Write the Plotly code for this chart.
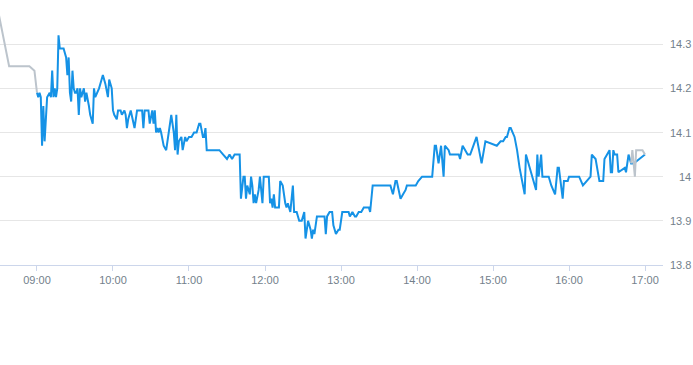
import datetime as dt
import plotly.graph_objects as go

BASE = dt.datetime(2024, 1, 2, 9, 0)

# Intraday price (minutes after 09:00, price)
main_minutes = [0, 1, 2, 3, 4, 5, 6, 8, 10, 11, 12, 13, 14, 15, 16, 17, 18, 21, 23, 24, 25, 26, 27, 28, 29,
                30, 31, 32, 33, 34, 35, 37, 38, 39, 41, 42, 44, 45, 46, 49, 51, 52, 54, 56, 57, 59,
                60, 61, 63, 64, 66, 67, 69, 70, 71, 72, 74, 76, 77, 79, 83, 84, 85, 88, 89, 91, 92, 93,
                94, 95, 96, 97, 98, 100, 102, 104, 106, 108, 109, 110, 111, 112, 114, 115, 117, 118,
                120, 122, 124, 126, 128, 129, 131, 132, 133, 134, 137, 144, 147, 150, 152, 154, 156,
                158, 160, 161, 163, 164, 165, 166, 168, 169, 170, 171, 172, 173, 175, 176, 177, 178,
                179, 183, 184, 185, 186, 187, 188, 191, 192, 194, 196, 197, 198, 200, 202, 203, 205,
                207, 209, 211, 212, 214, 216, 217, 218, 219, 221, 227, 228, 229, 231, 233, 234, 236,
                238, 239, 241, 243, 246, 247, 249, 251, 252, 254, 256, 258, 260, 262, 263, 265, 269,
                279, 281, 283, 284, 287, 289, 291, 292, 299, 301, 304, 312, 314, 315, 317, 319, 321,
                322, 325, 326, 333, 334, 336, 340, 342, 347, 351, 354, 363, 366, 368, 370, 371, 373,
                374, 377, 379, 381, 383, 385, 386, 389, 394, 395, 396, 398, 399, 404, 406, 409, 411,
                412, 415, 416, 419, 420, 428, 431, 434, 437, 438, 441, 444, 447, 448, 452, 453, 454,
                455, 456, 458, 459, 464, 465, 467, 469, 471, 476, 480]
main_prices = [14.19, 14.18, 14.19, 14.18, 14.07, 14.16, 14.08, 14.18, 14.19, 14.18, 14.24, 14.18, 14.20,
               14.18, 14.20, 14.32, 14.29, 14.29, 14.27, 14.23, 14.27, 14.19, 14.17, 14.24, 14.20,
               14.19, 14.19, 14.20, 14.14, 14.20, 14.18, 14.20, 14.17, 14.19, 14.16, 14.14, 14.12,
               14.20, 14.18, 14.20, 14.22, 14.23, 14.21, 14.18, 14.22, 14.20,
               14.15, 14.14, 14.13, 14.15, 14.15, 14.14, 14.15, 14.14, 14.11, 14.13, 14.15, 14.12,
               14.11, 14.15, 14.15, 14.11, 14.15, 14.15, 14.12, 14.15, 14.12, 14.15,
               14.10, 14.11, 14.10, 14.11, 14.10, 14.07, 14.06, 14.10, 14.14, 14.10, 14.06, 14.14,
               14.05, 14.08, 14.09, 14.06, 14.09, 14.08,
               14.09, 14.09, 14.10, 14.10, 14.12, 14.12, 14.09, 14.09, 14.11, 14.06, 14.06, 14.06,
               14.05, 14.04, 14.05, 14.04, 14.05,
               14.05, 14.05, 13.95, 14.00, 14.00, 13.95, 13.98, 13.96, 14.00, 13.98, 13.94, 13.96,
               13.94, 13.97, 14.00, 13.96, 13.94,
               14.00, 14.00, 13.94, 13.95, 13.93, 13.96, 13.93, 13.93, 13.99, 13.98, 13.94, 13.93,
               13.94, 13.92, 13.98, 13.92, 13.92,
               13.90, 13.90, 13.92, 13.86, 13.90, 13.88, 13.86, 13.88, 13.87, 13.91, 13.91, 13.87,
               13.91, 13.92, 13.92, 13.89, 13.87,
               13.88, 13.88, 13.92, 13.92, 13.92, 13.91, 13.92, 13.91, 13.91, 13.92, 13.92, 13.93,
               13.93, 13.93, 13.92, 13.98, 13.98,
               13.98, 13.96, 13.99, 13.99, 13.95, 13.96, 13.97, 13.98, 13.98, 13.99, 14.00, 14.00,
               14.07, 14.07, 14.03, 14.07, 14.00,
               14.07, 14.06, 14.05, 14.05, 14.04, 14.07, 14.05, 14.05, 14.09, 14.03, 14.08, 14.07,
               14.08, 14.08, 14.09, 14.09, 14.11,
               14.11, 14.09, 14.06, 14.02, 13.99, 13.96, 14.05, 14.02, 13.97, 14.05, 14.00, 14.05,
               14.00, 14.00, 13.98, 13.96, 14.02,
               14.02, 13.95, 13.99, 13.99, 14.00, 14.00, 13.98, 13.99, 14.00, 14.05, 14.04, 13.99,
               13.99, 14.04, 14.06, 14.01, 14.01,
               14.06, 14.05, 14.05, 14.01, 14.02, 14.01, 14.05, 14.03, 14.03, 14.04, 14.05]

# Pre-market / after-hours (grey)
pre_minutes = [-31, -22, -6, -2, 0]
pre_prices = [14.38, 14.25, 14.25, 14.24, 14.19]
post_minutes = [469, 470, 472, 473, 478, 480]
post_prices = [14.03, 14.06, 14.00, 14.06, 14.06, 14.05]

y_ticks = [13.8, 13.9, 14.0, 14.1, 14.2, 14.3]
y_tick_labels = ["13.8", "13.9", "14", "14.1", "14.2", "14.3"]


def to_time(mins):
    return [BASE + dt.timedelta(minutes=m) for m in mins]


BLUE = "#1592e6"
GREY = "#bcc4cc"
LABEL = "#737f8b"

fig = go.Figure()
fig.add_trace(go.Scatter(x=to_time(pre_minutes), y=pre_prices, mode="lines",
                         line=dict(color=GREY, width=2), hoverinfo="skip", showlegend=False))
fig.add_trace(go.Scatter(x=to_time(main_minutes), y=main_prices, mode="lines",
                         line=dict(color=BLUE, width=2), showlegend=False))
fig.add_trace(go.Scatter(x=to_time(post_minutes), y=post_prices, mode="lines",
                         line=dict(color=GREY, width=2), hoverinfo="skip", showlegend=False))

x_start = BASE - dt.timedelta(minutes=29.2)
x_end = BASE + dt.timedelta(minutes=494.2)

fig.update_layout(
    width=693, height=365,
    margin=dict(l=0, r=30, t=0, b=100),
    paper_bgcolor="white", plot_bgcolor="white",
    font=dict(family="Liberation Sans, Arial, sans-serif", size=11, color=LABEL),
    xaxis=dict(
        range=[x_start, x_end], type="date",
        tickformat="%H:%M", dtick=3600000, tick0=BASE,
        showgrid=False, zeroline=False,
        showline=True, linecolor="#ccd6eb", linewidth=1,
        ticks="outside", ticklen=5, tickcolor="#ccd6eb",
        tickfont=dict(size=11, color=LABEL),
    ),
    yaxis=dict(
        range=[13.8, 14.4], side="right",
        tickvals=y_ticks, showticklabels=False,
        showgrid=True, gridcolor="#e6e6e6", gridwidth=1,
        zeroline=False, showline=False, ticks="",
    ),
)

for v, lab in zip(y_ticks, y_tick_labels):
    fig.add_annotation(x=1, xref="paper", xshift=30, xanchor="right",
                       y=v, yref="y", yanchor="middle", text=lab, showarrow=False,
                       font=dict(size=11, color=LABEL))

fig.write_html("out.html")
